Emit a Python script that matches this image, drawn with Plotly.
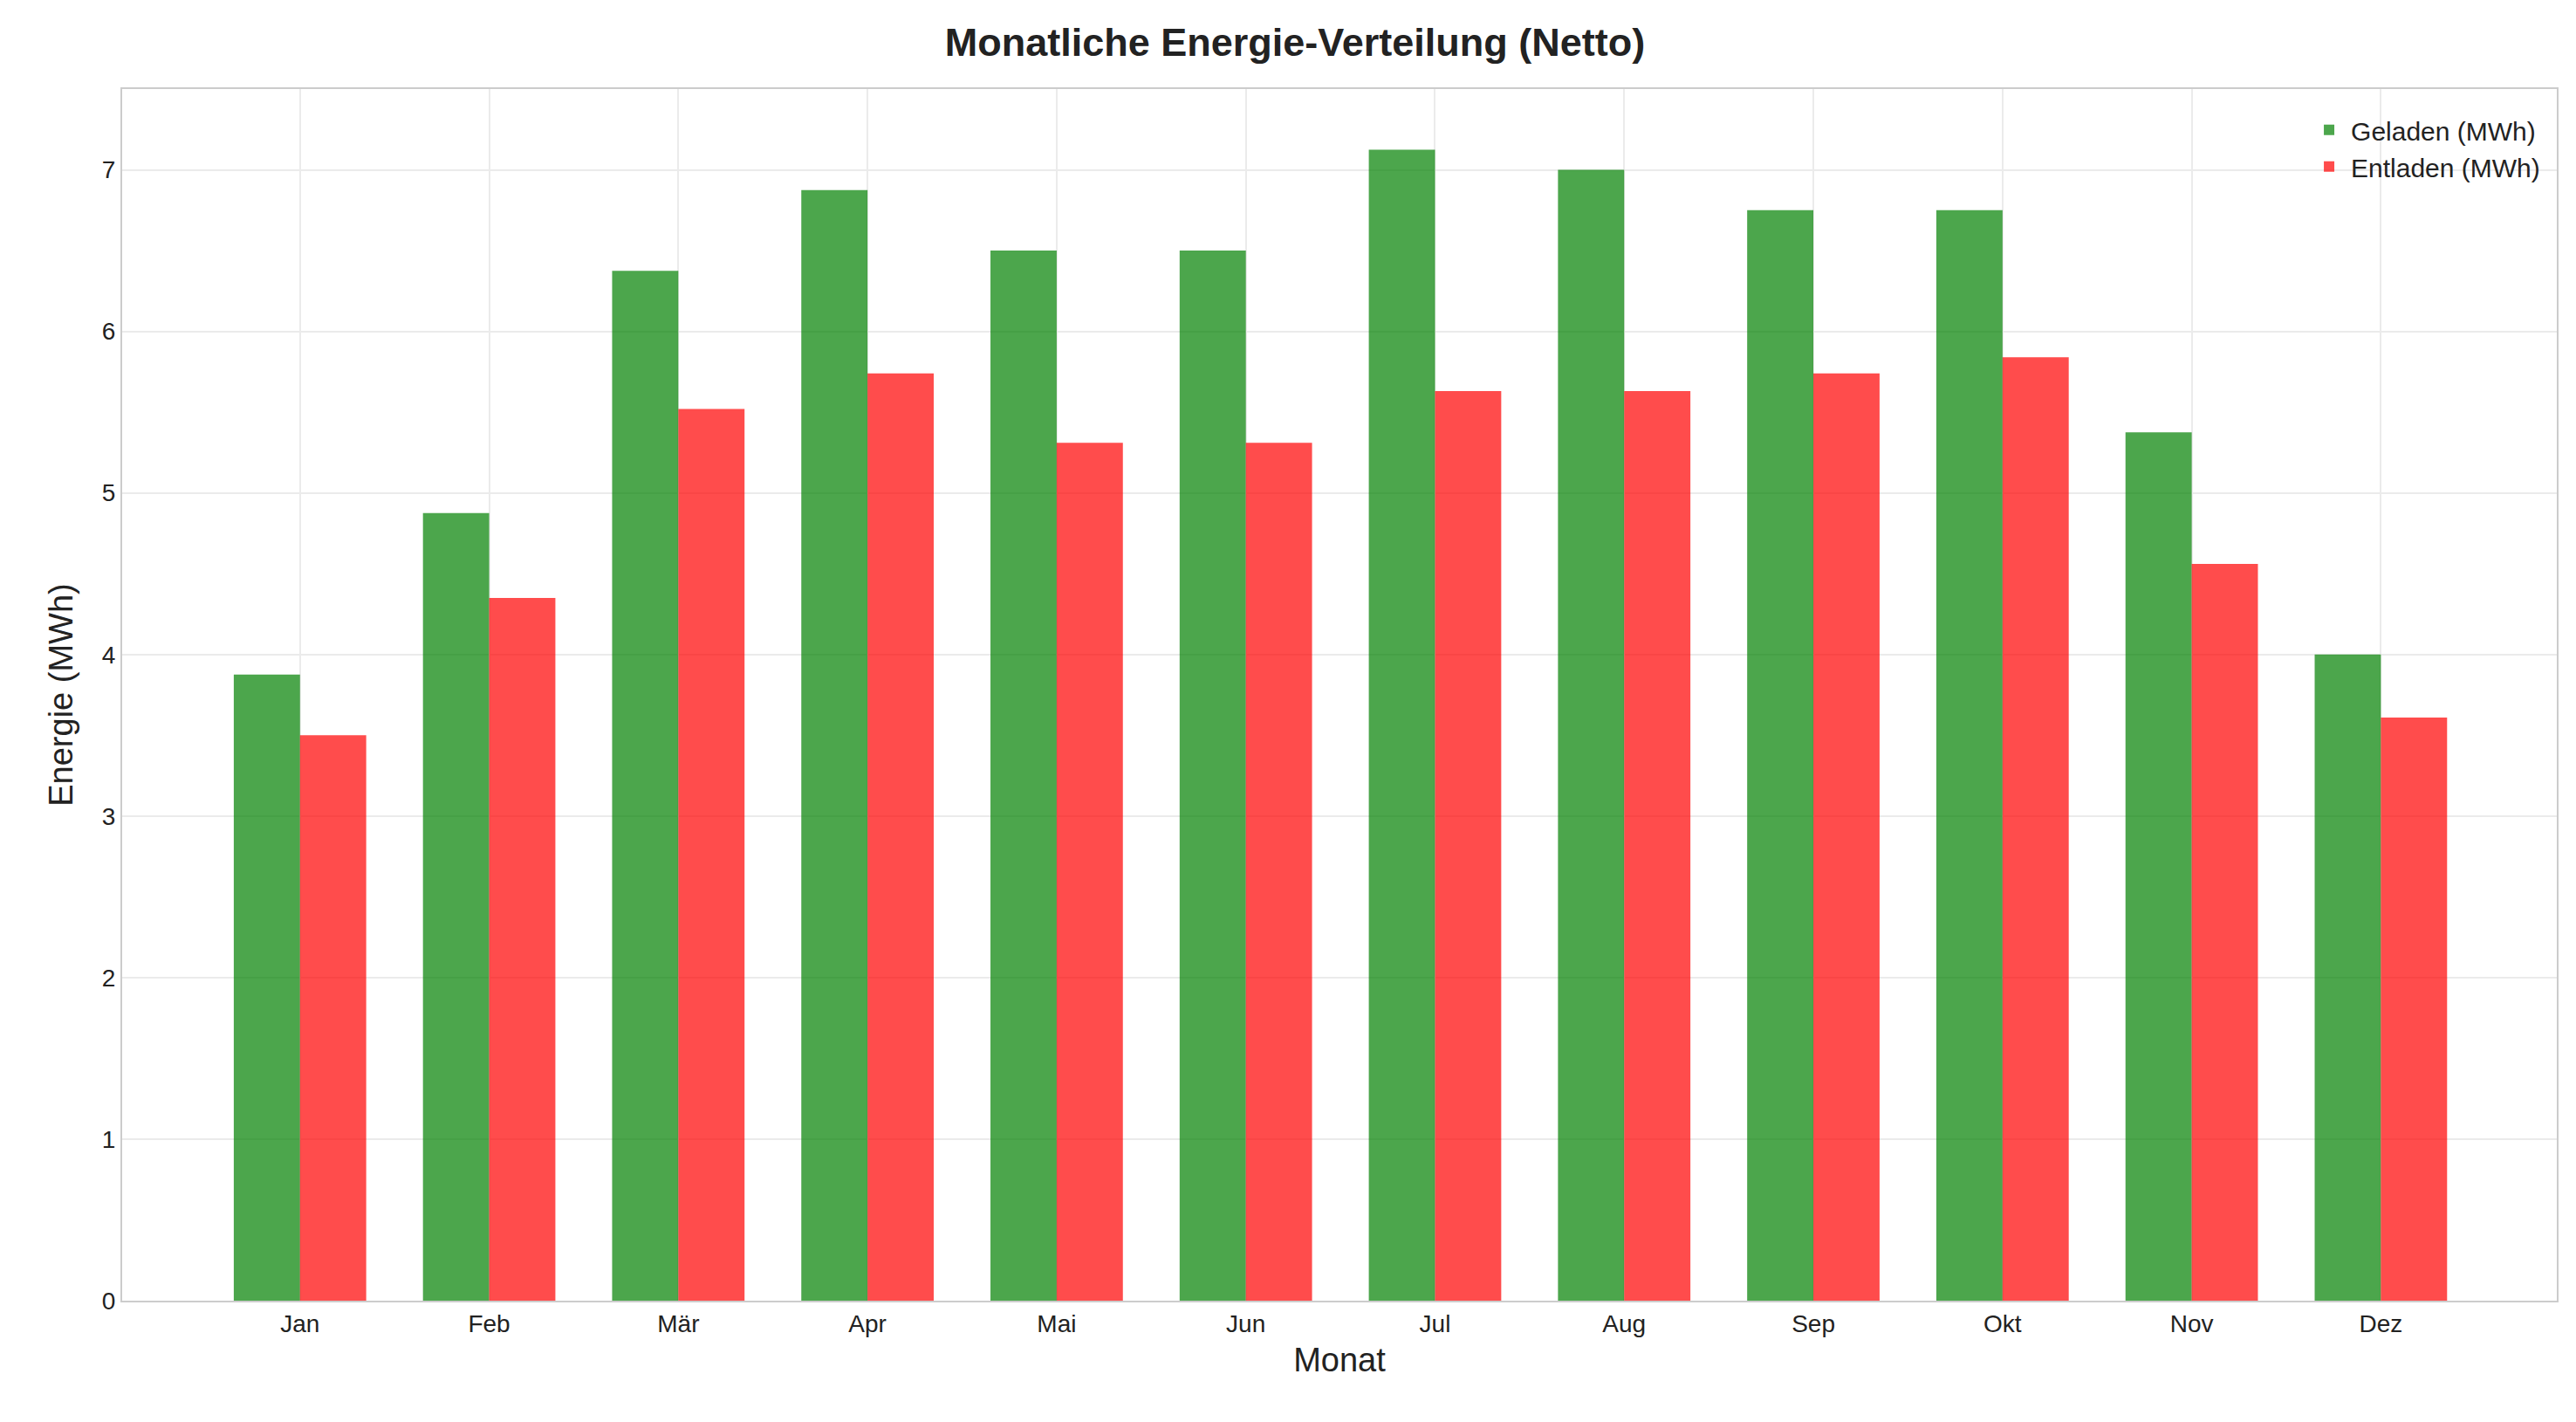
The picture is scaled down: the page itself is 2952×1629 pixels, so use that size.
import plotly.graph_objects as go

months = ["Jan", "Feb", "Mär", "Apr", "Mai", "Jun", "Jul", "Aug", "Sep", "Okt", "Nov", "Dez"]
geladen = [3.875, 4.875, 6.375, 6.875, 6.5, 6.5, 7.125, 7.0, 6.75, 6.75, 5.375, 4.0]
entladen = [3.5, 4.35, 5.52, 5.74, 5.31, 5.31, 5.63, 5.63, 5.74, 5.84, 4.56, 3.61]

x = list(range(len(months)))

fig = go.Figure()
fig.add_trace(go.Bar(x=x, y=geladen, name="Geladen (MWh)", width=0.35, offset=-0.35,
                     marker_color="rgba(0,128,0,0.7)", marker_line_width=0))
fig.add_trace(go.Bar(x=x, y=entladen, name="Entladen (MWh)", width=0.35, offset=0,
                     marker_color="rgba(255,0,0,0.7)", marker_line_width=0))

axis_style = dict(showline=True, mirror=True, linecolor="#cccccc", linewidth=2,
                  gridcolor="#ebebeb", gridwidth=2, zeroline=False,
                  tickfont=dict(size=28, color="#222"), ticks="")

fig.update_layout(
    width=2952, height=1629,
    font=dict(family="Liberation Sans, Arial, sans-serif", color="#222"),
    title=dict(text="<b>Monatliche Energie-Verteilung (Netto)</b>", x=0.5, xanchor="center",
               y=0.985, yanchor="top", font=dict(size=45, color="#222")),
    plot_bgcolor="white", paper_bgcolor="white",
    margin=dict(l=132, r=30, t=94, b=147),
    barmode="overlay",
    xaxis=dict(axis_style, tickmode="array", tickvals=x, ticktext=months, range=[-0.94, 11.93],
               title=dict(text="Monat", font=dict(size=38), standoff=14)),
    yaxis=dict(axis_style, range=[0, 7.5], dtick=1,
               title=dict(text="Energie (MWh)", font=dict(size=38), standoff=22)),
    legend=dict(x=0.995, y=0.985, xanchor="right", yanchor="top", bgcolor="rgba(0,0,0,0)",
                font=dict(size=30), itemwidth=40),
)

fig.write_html("out.html")
